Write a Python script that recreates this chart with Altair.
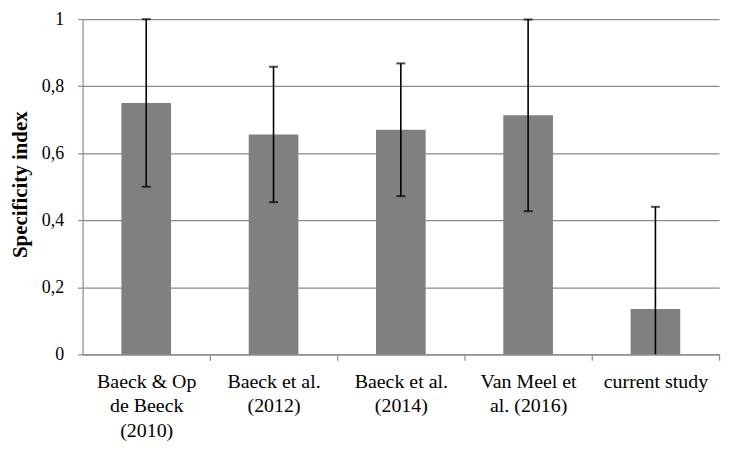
import altair as alt
import pandas as pd

# Data
studies = ["Baeck & Op|de Beeck|(2010)", "Baeck et al.|(2012)", "Baeck et al.|(2014)",
           "Van Meel et|al. (2016)", "current study"]
means = [0.75, 0.656, 0.670, 0.713, 0.135]
errors = [0.25, 0.202, 0.198, 0.286, 0.305]

rows = []
for s, m, e in zip(studies, means, errors):
    lo, hi = m - e, m + e
    rows.append({
        "study": s, "mean": m,
        "lo": max(lo, 0.0), "hi": min(hi, 1.0),
        "lo_cap": lo if lo >= 0 else None,
        "hi_cap": hi if hi <= 1.0 else None,
    })
df = pd.DataFrame(rows)

FONT = "Liberation Serif"
GRID = "#8a8a8a"

xscale = alt.Scale(domain=studies, paddingInner=0.61, paddingOuter=0.305)
yscale = alt.Scale(domain=[0, 1], nice=False)

xaxis = alt.Axis(
    title=None, labelAngle=0, grid=False, ticks=True,
    tickOffset=64, labelOffset=-64,
    domainColor=GRID, tickColor=GRID, tickSize=6, tickWidth=1.2, domainWidth=1.2,
    labelFont=FONT, labelFontSize=20, labelColor="#000000",
    labelLineHeight=25, labelPadding=11,
    labelExpr="split(datum.value, '|')",
)
yaxis = alt.Axis(
    title="Specificity index", values=[0, 0.2, 0.4, 0.6, 0.8, 1.0],
    grid=True, gridColor=GRID, gridWidth=1.2,
    domainColor=GRID, tickColor=GRID, tickSize=5, tickWidth=1.2, domainWidth=1.2,
    labelFont=FONT, labelFontSize=18, labelColor="#000000", labelPadding=14,
    labelExpr="datum.value == 0 ? '0' : (datum.value == 1 ? '1' : replace(format(datum.value, '.1f'), '.', ','))",
    titleFont=FONT, titleFontSize=21, titleFontWeight="bold", titleColor="#000000",
    titleX=-62, titleY=166, titleAngle=-90, titleAlign="center", titleBaseline="middle",
)

base = alt.Chart(df)

bars = base.mark_bar(color="#808080").encode(
    x=alt.X("study:N", scale=xscale, axis=xaxis, sort=studies),
    y=alt.Y("mean:Q", scale=yscale, axis=yaxis),
)

rules = base.mark_rule(color="#000000", strokeWidth=1.6).encode(
    x=alt.X("study:N", scale=xscale, sort=studies),
    y="lo:Q",
    y2="hi:Q",
)

caps_hi = base.mark_tick(color="#000000", thickness=2, size=9, orient="horizontal").encode(
    x=alt.X("study:N", scale=xscale, sort=studies),
    y="hi_cap:Q",
).transform_filter("isValid(datum.hi_cap)")

caps_lo = base.mark_tick(color="#000000", thickness=2, size=9, orient="horizontal").encode(
    x=alt.X("study:N", scale=xscale, sort=studies),
    y="lo_cap:Q",
).transform_filter("isValid(datum.lo_cap)")

chart = alt.layer(bars, rules, caps_hi, caps_lo).properties(
    width=640, height=337,
    autosize=alt.AutoSizeParams(type="none"),
    padding={"left": 75, "top": 10, "right": 12, "bottom": 94},
    background="#ffffff",
).configure_view(stroke=None)

chart.save("out.html", embed_options={"renderer": "svg", "actions": False})
